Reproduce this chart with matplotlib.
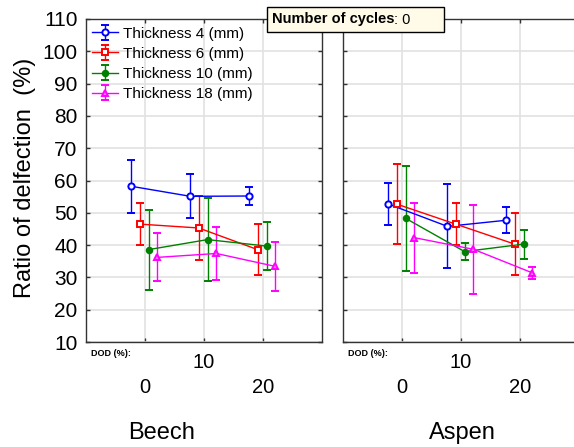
"""Ratio of deflection vs DOD for beech and aspen, by thickness."""

import matplotlib
import matplotlib.pyplot as plt
from matplotlib.patches import Rectangle

matplotlib.use("Agg")
plt.rcParams["font.family"] = ["Liberation Sans", "DejaVu Sans"]

dod_labels = ["0", "10", "20"]
thickness_labels = ["Thickness 4 (mm)", "Thickness 6 (mm)", "Thickness 10 (mm)", "Thickness 18 (mm)"]

# rows: thickness 4, 6, 10, 18 ; columns: DOD 0, 10, 20
beech_mean = [
    [58.2, 55.1, 55.2],
    [46.5, 45.3, 38.6],
    [38.6, 41.7, 39.7],
    [36.2, 37.4, 33.4],
]
beech_err = [
    [8.3, 6.8, 2.9],
    [6.5, 9.9, 8.0],
    [12.4, 12.8, 7.3],
    [7.4, 8.1, 7.6],
]
aspen_mean = [
    [52.7, 45.8, 47.7],
    [52.7, 46.5, 40.3],
    [48.3, 38.0, 40.3],
    [42.3, 38.7, 31.4],
]
aspen_err = [
    [6.5, 13.0, 4.0],
    [12.5, 6.4, 9.7],
    [16.2, 2.7, 4.5],
    [10.8, 13.8, 1.8],
]

colors = ["#0000ff", "#ff0000", "#008000", "#ff00ff"]
markers = ["o", "s", "o", "^"]
faces = ["white", "white", "#008000", "#ff80ff"]
sizes = [4.5, 4.5, 4.0, 4.5]
offsets = [-0.23, -0.09, 0.06, 0.21]

fig = plt.figure(figsize=(5.74, 4.47), dpi=100)
W, H = 574, 447
ax_l = fig.add_axes([86 / W, 105 / H, 236 / W, 323 / H])
ax_r = fig.add_axes([343 / W, 105 / H, 236 / W, 323 / H])


def draw_panel(ax, means, errs, show_y):
    xs = [1, 2, 3]
    handles = []
    for i in range(len(means)):
        x = [v + offsets[i] for v in xs]
        h = ax.errorbar(
            x, means[i], yerr=errs[i],
            color=colors[i], ecolor=colors[i], elinewidth=1.0, lw=1.0,
            capsize=3, capthick=1.0,
            marker=markers[i], ms=sizes[i],
            mfc=faces[i], mec=colors[i], mew=1.4,
            label=thickness_labels[i],
        )
        handles.append(h)
    ax.set_xlim(0, 4)
    ax.set_ylim(10, 110)
    ax.set_yticks(range(10, 111, 10))
    ax.set_xticks(xs)
    ax.set_xticklabels(dod_labels, fontsize=14.5)
    ticks = ax.xaxis.get_major_ticks()
    ticks[0].set_pad(26)
    ticks[1].set_pad(8)
    ticks[2].set_pad(26)
    ax.grid(True, color="#e2e2e2", lw=1.2)
    ax.set_axisbelow(True)
    ax.tick_params(axis="both", direction="in", length=3, width=1, color="#333333",
                   top=True, right=show_y)
    ax.tick_params(axis="y", pad=6, labelsize=15)
    if not show_y:
        ax.tick_params(axis="y", labelleft=False)
    for s in ax.spines.values():
        s.set_color("#333333")
        s.set_linewidth(1.0)
    ax.text(0.022, -0.037, "DOD (%):", transform=ax.transAxes, fontsize=6.5,
            fontweight="bold", ha="left", va="center")
    return handles


handles = draw_panel(ax_l, beech_mean, beech_err, True)
draw_panel(ax_r, aspen_mean, aspen_err, False)

fig.text(25 / W, 1 - 178 / H, "Ratio of delfection  (%)", fontsize=17,
         rotation=90, ha="center", va="center")
ax_l.text(0.322, -0.282, "Beech", transform=ax_l.transAxes, fontsize=17,
          ha="center", va="center")
ax_r.text(0.504, -0.282, "Aspen", transform=ax_r.transAxes, fontsize=17,
          ha="center", va="center")

ax_l.legend(handles=handles, loc="upper left", frameon=False, fontsize=11,
            handlelength=1.7, handletextpad=0.35, labelspacing=0.4,
            borderaxespad=0.0, bbox_to_anchor=(0.0, 0.995))

# "Number of cycles" box on top
fig.patches.append(Rectangle((267 / W, 1 - 32 / H), 177 / W, 25 / H,
                             transform=fig.transFigure, facecolor="#fffbe8",
                             edgecolor="black", lw=1.0, zorder=5))
t1 = fig.text(272 / W, 1 - 19.5 / H, "Number of cycles", fontsize=10.5,
              fontweight="bold", ha="left", va="center", zorder=6)
fig.canvas.draw()
bb = t1.get_window_extent().transformed(fig.transFigure.inverted())
fig.text(bb.x1, 1 - 19.5 / H, ": 0", fontsize=10.5, ha="left", va="center",
         zorder=6)

fig.savefig("out.png", dpi=100)
